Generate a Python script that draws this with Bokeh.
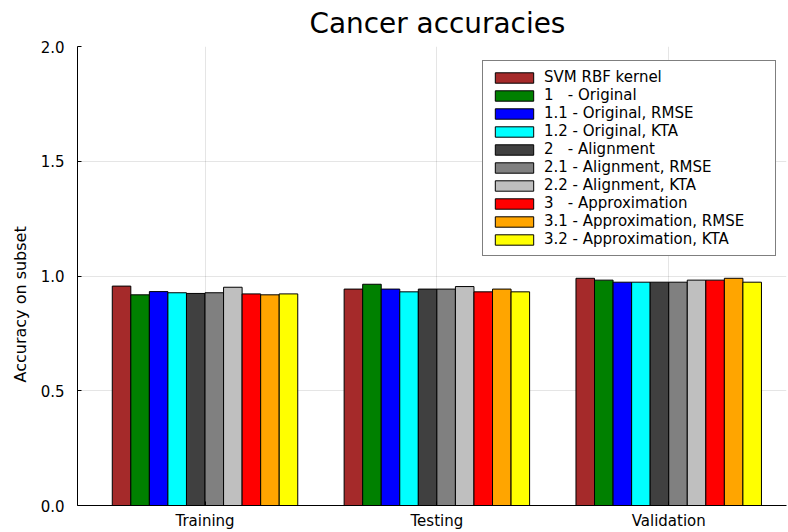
from bokeh.plotting import figure
from bokeh.models import Legend, LegendItem, FixedTicker, Range1d, Title
from bokeh.embed import file_html
from bokeh.resources import INLINE

# ---- data ----
title_text = "Cancer accuracies"
y_label_text = "Accuracy on subset"
subsets = ["Training", "Testing", "Validation"]
methods = ["SVM RBF kernel", "1   - Original", "1.1 - Original, RMSE", "1.2 - Original, KTA",
           "2   - Alignment", "2.1 - Alignment, RMSE", "2.2 - Alignment, KTA",
           "3   - Approximation", "3.1 - Approximation, RMSE", "3.2 - Approximation, KTA"]
acc_svm = [0.956, 0.943, 0.990]
acc_1 = [0.918, 0.964, 0.982]
acc_1_1 = [0.932, 0.943, 0.973]
acc_1_2 = [0.927, 0.931, 0.973]
acc_2 = [0.924, 0.943, 0.973]
acc_2_1 = [0.927, 0.943, 0.973]
acc_2_2 = [0.951, 0.954, 0.982]
acc_3 = [0.922, 0.931, 0.982]
acc_3_1 = [0.918, 0.943, 0.990]
acc_3_2 = [0.922, 0.931, 0.973]
y_ticks = [0.0, 0.5, 1.0, 1.5, 2.0]
y_tick_labels = ["0.0", "0.5", "1.0", "1.5", "2.0"]

series = [acc_svm, acc_1, acc_1_1, acc_1_2, acc_2, acc_2_1, acc_2_2, acc_3, acc_3_1, acc_3_2]
colors = ["#A52A2A", "#008000", "#0000FF", "#00FFFF", "#404040", "#808080", "#BFBFBF",
          "#FF0000", "#FFA500", "#FFFF00"]

FONT = "DejaVu Sans"
group_pos = [0.5, 1.5, 2.5]
bar_w = 0.08
X0, X1 = -0.05, 3.008

p = figure(width=788, height=532, x_range=Range1d(X0, X1), y_range=Range1d(0, 2),
           output_backend="svg", toolbar_location=None,
           min_border_left=76, min_border_right=2, min_border_top=46, min_border_bottom=27)
p.outline_line_color = None
p.background_fill_color = "white"
p.border_fill_color = "white"

p.title.text = title_text
p.title.text_font = FONT
p.title.text_font_size = "27.9px"
p.title.text_font_style = "normal"
p.title.text_color = "black"
p.title.align = "left"
p.title.offset = 232
p.title.vertical_align = "top"
p.title.standoff = 10

items = []
for i, (name, vals, col) in enumerate(zip(methods, series, colors)):
    xs = [g + (i - 4.5) * bar_w for g in group_pos]
    r = p.vbar(x=xs, top=vals, bottom=0, width=bar_w, fill_color=col,
               line_color="black", line_width=1)
    items.append(LegendItem(label=name, renderers=[r]))

# axes
for ax in (p.xaxis[0], p.yaxis[0]):
    ax.axis_line_color = "black"
    ax.axis_line_width = 1
    ax.major_tick_in = 4
    ax.major_tick_out = 0
    ax.minor_tick_in = 0
    ax.minor_tick_out = 0
    ax.minor_tick_line_color = None
    ax.major_tick_line_color = "black"
    ax.major_label_text_font = FONT
    ax.major_label_text_font_size = "15px"
    ax.major_label_text_color = "black"

p.xaxis.ticker = FixedTicker(ticks=group_pos)
p.xaxis.major_label_overrides = {g: s for g, s in zip(group_pos, subsets)}
p.xaxis.major_label_standoff = 6

p.yaxis.ticker = FixedTicker(ticks=y_ticks)
p.yaxis.major_label_overrides = {t: s for t, s in zip(y_ticks, y_tick_labels)}
p.yaxis.major_label_standoff = 13

# y axis title, placed along the axis like the reference
ylab = Title(text=y_label_text, align="left", offset=123, standoff=16,
             text_font=FONT, text_font_size="16px", text_font_style="normal",
             text_color="black")
p.add_layout(ylab, "left")

p.xgrid.grid_line_color = "black"
p.xgrid.grid_line_alpha = 0.1
p.ygrid.grid_line_color = "black"
p.ygrid.grid_line_alpha = 0.1

legend = Legend(items=items, location=(405, 249))
legend.label_text_font = FONT
legend.label_text_font_size = "15px"
legend.label_text_color = "black"
legend.glyph_width = 48
legend.glyph_height = 13
legend.label_height = 13
legend.label_width = 224
legend.spacing = -1
legend.padding = 7
legend.label_standoff = 6
legend.border_line_color = "black"
legend.border_line_width = 1
legend.background_fill_color = "white"
legend.background_fill_alpha = 1
legend.margin = 0
p.add_layout(legend)

open("out.html", "w").write(file_html(p, INLINE))
